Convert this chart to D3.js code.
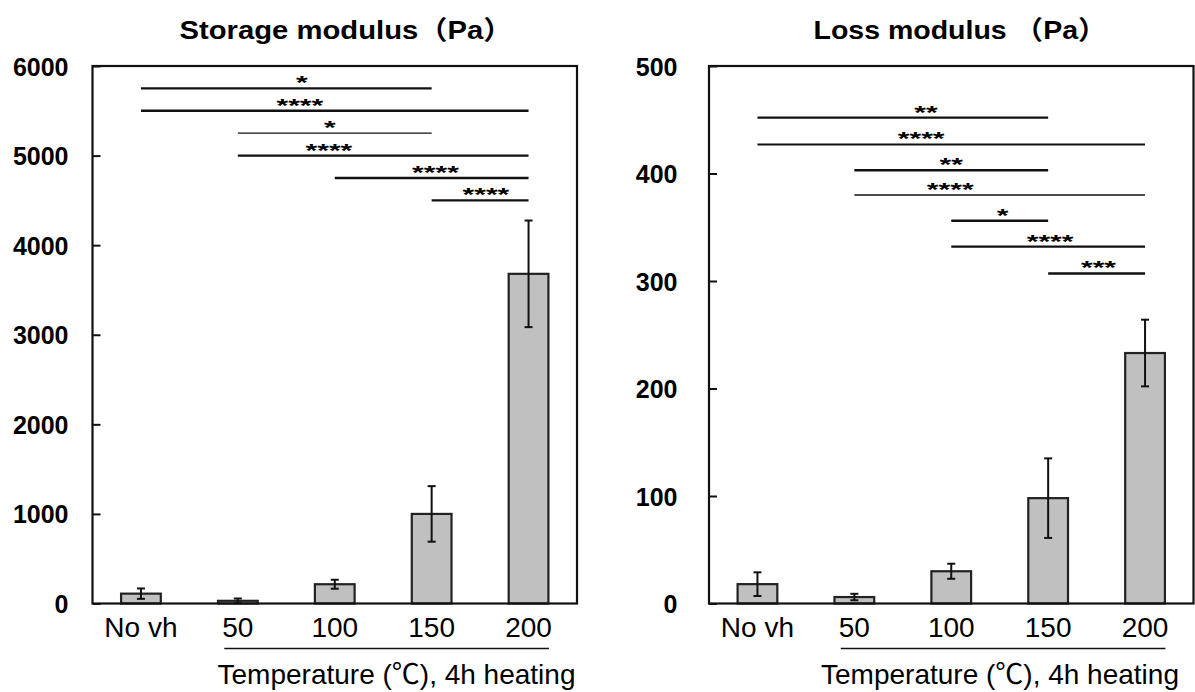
<!DOCTYPE html>
<html><head><meta charset="utf-8">
<script src="https://cdn.jsdelivr.net/npm/d3@7/dist/d3.min.js"></script>
<style>
html,body{margin:0;padding:0;background:#fff;}
svg{display:block;}
text{font-family:"Liberation Sans",Arial,"Noto Sans CJK JP",sans-serif;fill:#000;}
</style></head>
<body>
<svg id="chart" width="1195" height="692"></svg>
<script>
// ---- data ----
const categories = ["No vh", "50", "100", "150", "200"];
const heatedGroup = ["50", "200"]; // underlined group (first, last)

const storageTitle = "Storage modulus（Pa）";
const storageMeans = [110, 30, 215, 1000, 3680];
const storageErrors = [58, 26, 50, 310, 595];
const storageTicks = [0, 1000, 2000, 3000, 4000, 5000, 6000];
const storagePairs = [["No vh","150"],["No vh","200"],["50","150"],["50","200"],["100","200"],["150","200"]];
const storagePairLevels = [5750, 5500, 5250, 5000, 4750, 4500];
const storagePairStars = ["*", "****", "*", "****", "****", "****"];
const storageStarAt = [1.66, 1.64, 1.95, 1.94, 3.04, 3.56]; // category-index position of the star label

const lossTitle = "Loss modulus （Pa）";
const lossMeans = [18, 6, 30, 98, 233];
const lossErrors = [11, 3, 7, 37, 31];
const lossTicks = [0, 100, 200, 300, 400, 500];
const lossPairs = [["No vh","150"],["No vh","200"],["50","150"],["50","200"],["100","150"],["100","200"],["150","200"]];
const lossPairLevels = [452, 427, 403, 380, 356, 332, 307];
const lossPairStars = ["**", "****", "**", "****", "*", "****", "***"];
const lossStarAt = [1.74, 1.69, 2.0, 1.99, 2.53, 3.02, 3.52];

const xAxisTitle = "Temperature (℃), 4h heating";

// ---- styles (per bracket line weight) ----
const storagePairWeights = [2.4, 2.4, 1.3, 2.4, 2.4, 2.4];
const lossPairWeights = [2.4, 2.0, 2.4, 1.3, 2.4, 2.4, 2.4];

const svg = d3.select("#chart");

function panel(cfg) {
  const g = svg.append("g");
  const x = d3.scaleBand().domain(categories).range([cfg.left, cfg.right]).padding(0);
  const bw = x.bandwidth();
  const cx = c => x(c) + bw / 2;
  const idx = d3.scaleLinear().domain([0, categories.length - 1]).range([cx(categories[0]), cx(categories[categories.length - 1])]);
  const y = d3.scaleLinear().domain([0, cfg.ticks[cfg.ticks.length - 1]]).range([cfg.bottom, cfg.top]);
  const barW = bw * 0.41;

  // title
  g.append("text").attr("x", cfg.titleX).attr("y", 39).attr("text-anchor", "middle")
    .attr("font-size", 26).attr("font-weight", "bold")
    .attr("textLength", cfg.titleLen).attr("lengthAdjust", "spacingAndGlyphs")
    .text(cfg.title);

  // bars
  g.selectAll("rect.bar").data(cfg.means).join("rect").attr("class", "bar")
    .attr("x", (d, i) => cx(categories[i]) - barW / 2)
    .attr("y", d => y(d))
    .attr("width", barW)
    .attr("height", d => y(0) - y(d))
    .attr("fill", "#c0c0c0").attr("stroke", "#222").attr("stroke-width", 2.2);

  // error bars
  const eb = g.selectAll("g.err").data(cfg.means).join("g").attr("class", "err");
  eb.append("line")
    .attr("x1", (d, i) => cx(categories[i])).attr("x2", (d, i) => cx(categories[i]))
    .attr("y1", (d, i) => y(d + cfg.errs[i])).attr("y2", (d, i) => y(Math.max(0, d - cfg.errs[i])))
    .attr("stroke", "#111").attr("stroke-width", 2);
  [1, -1].forEach(s => {
    eb.append("line")
      .attr("x1", (d, i) => cx(categories[i]) - 4).attr("x2", (d, i) => cx(categories[i]) + 4)
      .attr("y1", (d, i) => y(Math.max(0, d + s * cfg.errs[i]))).attr("y2", (d, i) => y(Math.max(0, d + s * cfg.errs[i])))
      .attr("stroke", "#111").attr("stroke-width", 2);
  });

  // frame
  g.append("rect").attr("x", cfg.left).attr("y", cfg.top)
    .attr("width", cfg.right - cfg.left).attr("height", cfg.bottom - cfg.top)
    .attr("fill", "none").attr("stroke", "#111").attr("stroke-width", 2.2);

  // y axis (ticks inside)
  const ya = d3.axisLeft(y).tickValues(cfg.ticks).tickSize(-8).tickPadding(cfg.labelGap).tickFormat(d3.format("d"));
  const ag = g.append("g").attr("transform", `translate(${cfg.left},0)`).call(ya);
  ag.select(".domain").remove();
  ag.selectAll(".tick line").attr("stroke", "#111").attr("stroke-width", 2);
  ag.selectAll(".tick text").attr("font-size", 25).attr("font-weight", "bold")
    .attr("font-family", "'Liberation Sans', Arial, sans-serif").attr("fill", "#000").attr("dy", "0.36em");

  // x labels
  const xl = g.selectAll("text.xl").data(categories).join("text").attr("class", "xl")
    .attr("x", d => cx(d)).attr("y", 637).attr("text-anchor", "middle")
    .attr("font-size", 28).text(d => d);
  // underline under heated group
  const lab = {};
  xl.each(function (d) { lab[d] = this.getBBox(); });
  const a = lab[heatedGroup[0]], b = lab[heatedGroup[1]];
  g.append("line").attr("x1", a.x + 2).attr("x2", b.x + b.width - 3)
    .attr("y1", 648.5).attr("y2", 648.5).attr("stroke", "#111").attr("stroke-width", 1.6);
  g.append("text").attr("x", cfg.left + cfg.xTitleOffset).attr("y", 684).attr("text-anchor", "middle")
    .attr("font-size", 28).text(xAxisTitle);

  // significance brackets
  cfg.pairs.forEach((p, i) => {
    const yy = y(cfg.levels[i]);
    g.append("line").attr("x1", cx(p[0])).attr("x2", cx(p[1]))
      .attr("y1", yy).attr("y2", yy).attr("stroke", "#111").attr("stroke-width", cfg.weights[i]);
    const n = cfg.stars[i].length;
    g.append("text").attr("x", idx(cfg.starAt[i])).attr("y", yy + 1).attr("text-anchor", "middle")
      .attr("font-family", "'DejaVu Sans', sans-serif").attr("font-weight", "bold")
      .attr("font-size", 18.5)
      .attr("textLength", n * 11.7).attr("lengthAdjust", "spacingAndGlyphs")
      .text(cfg.stars[i]);
  });
}

panel({
  left: 92.5, right: 577, top: 66, bottom: 603.5,
  title: storageTitle, titleX: 346, titleLen: 333,
  means: storageMeans, errs: storageErrors, ticks: storageTicks, labelGap: 24,
  pairs: storagePairs, levels: storagePairLevels, stars: storagePairStars, starAt: storageStarAt, weights: storagePairWeights,
  xTitleOffset: 304
});
panel({
  left: 709, right: 1193.5, top: 66, bottom: 603.5,
  title: lossTitle, titleX: 960, titleLen: 293,
  means: lossMeans, errs: lossErrors, ticks: lossTicks, labelGap: 31.5,
  pairs: lossPairs, levels: lossPairLevels, stars: lossPairStars, starAt: lossStarAt, weights: lossPairWeights,
  xTitleOffset: 291
});
</script>
</body></html>
